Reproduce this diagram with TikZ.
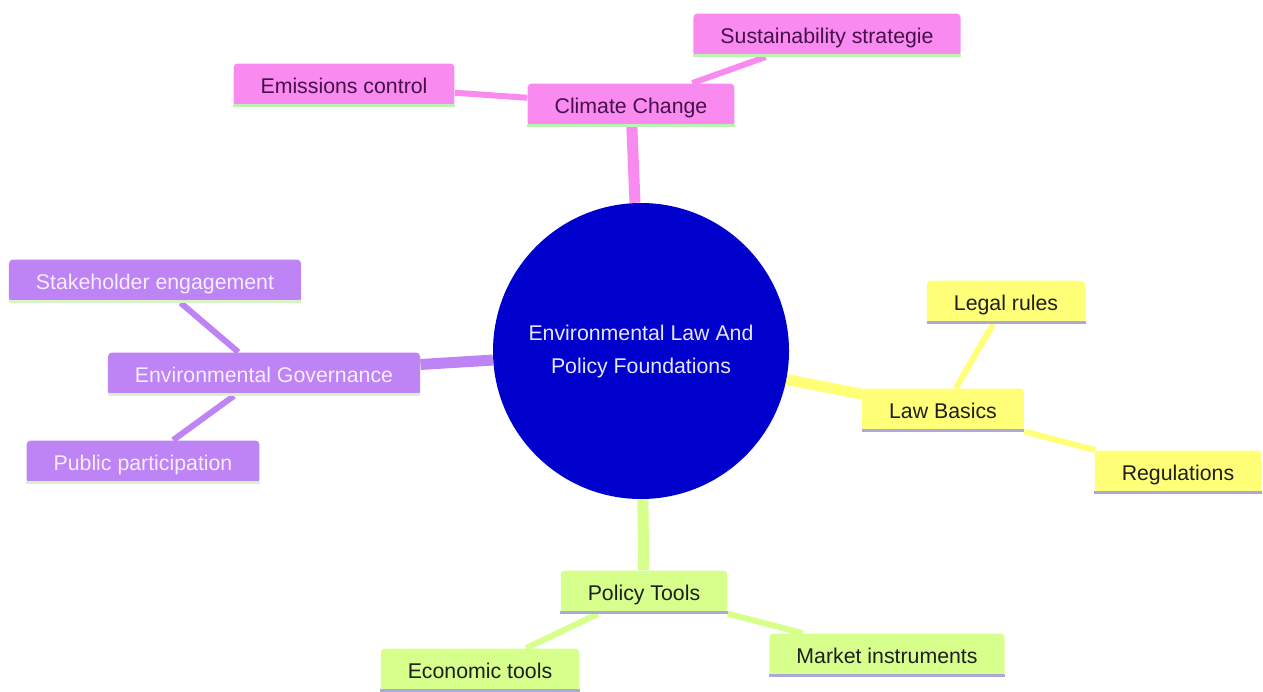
\documentclass[tikz,border=0pt]{standalone}
\usepackage{fontspec}
\setmainfont{Liberation Sans}
\usetikzlibrary{backgrounds}

\definecolor{rootblue}{HTML}{0000CD}
\definecolor{roottext}{HTML}{E6E6FF}
\definecolor{pinkfill}{HTML}{F98AF0}
\definecolor{pinktext}{HTML}{46104A}
\definecolor{pinkline}{HTML}{BDF2B5}
\definecolor{purplefill}{HTML}{BE84F5}
\definecolor{purpletext}{HTML}{F6EEFF}
\definecolor{purpleline}{HTML}{DAF2C8}
\definecolor{yellowfill}{HTML}{FFFF78}
\definecolor{greenfill}{HTML}{D6FF8C}
\definecolor{darktext}{HTML}{1E1E1E}
\definecolor{lavline}{HTML}{ABA8DC}

\tikzset{
  branch/.style={rounded corners=2pt, inner xsep=13.5pt, inner ysep=0pt,
                 minimum height=21.5pt, text height=9.5pt, text depth=1pt},
  pinkbox/.style={branch, fill=pinkfill, text=pinktext},
  purplebox/.style={branch, fill=purplefill, text=purpletext},
  yellowbox/.style={branch, fill=yellowfill, text=darktext},
  greenbox/.style={branch, fill=greenfill, text=darktext},
  trunk/.style={line width=5.5pt},
  twig/.style={line width=3pt}
}

\begin{document}
\begin{tikzpicture}[x=0.5pt, y=-0.5pt, font=\fontsize{10.65}{16.5}\selectfont]

      \useasboundingbox (0,0) rectangle (1263,691);

      \node[circle, fill=rootblue, text=roottext, minimum size=148pt, inner sep=0pt, align=center]
        (root) at (641,351) {Environmental Law And\\Policy Foundations};

      \begin{scope}[every node/.style={pinkbox}]
        \node (climate) at (631,105) {Climate Change};
        \node (sustain) at (827,35)  {Sustainability strategie};
        \node (emiss)   at (344,85)  {Emissions control};
      \end{scope}

      \begin{scope}[every node/.style={purplebox}]
        \node (govern) at (264,374) {Environmental Governance};
        \node (stake)  at (155,281) {Stakeholder engagement};
        \node (public) at (143,462) {Public participation};
      \end{scope}

      \begin{scope}[every node/.style={yellowbox}]
        \node (law)   at (943,410)  {Law Basics};
        \node (legal) at (1006,302) {Legal rules};
        \node (regul) at (1178,472) {Regulations};
      \end{scope}

      \begin{scope}[every node/.style={greenbox}]
        \node (policy) at (644,592) {Policy Tools};
        \node (econ)   at (480,670) {Economic tools};
        \node (market) at (887,655) {Market instruments};
      \end{scope}

      % bottom strips under the boxes
      \foreach \n/\c in {climate/pinkline, sustain/pinkline, emiss/pinkline,
                         govern/purpleline, stake/purpleline, public/purpleline,
                         law/lavline, legal/lavline, regul/lavline,
                         policy/lavline, econ/lavline, market/lavline}
        \draw[\c, line width=1.5pt] ([yshift=0.5pt]\n.south west) -- ([yshift=0.5pt]\n.south east);

      \begin{pgfonlayer}{background}
        \begin{scope}[every edge/.style={draw}]
          \path (root)    edge[trunk, pinkfill]   (climate);
          \path (climate) edge[twig, pinkfill]    (sustain);
          \path (climate) edge[twig, pinkfill]    (emiss);
          \path (root)    edge[trunk, purplefill] (govern);
          \path (govern)  edge[twig, purplefill]  (stake);
          \path (govern)  edge[twig, purplefill]  (public);
          \path (root)    edge[trunk, yellowfill] (law);
          \path (law)     edge[twig, yellowfill]  (legal);
          \path (law)     edge[twig, yellowfill]  (regul);
          \path (root)    edge[trunk, greenfill]  (policy);
          \path (policy)  edge[twig, greenfill]   (econ);
          \path (policy)  edge[twig, greenfill]   (market);
        \end{scope}
      \end{pgfonlayer}

    \end{tikzpicture}
\end{document}
